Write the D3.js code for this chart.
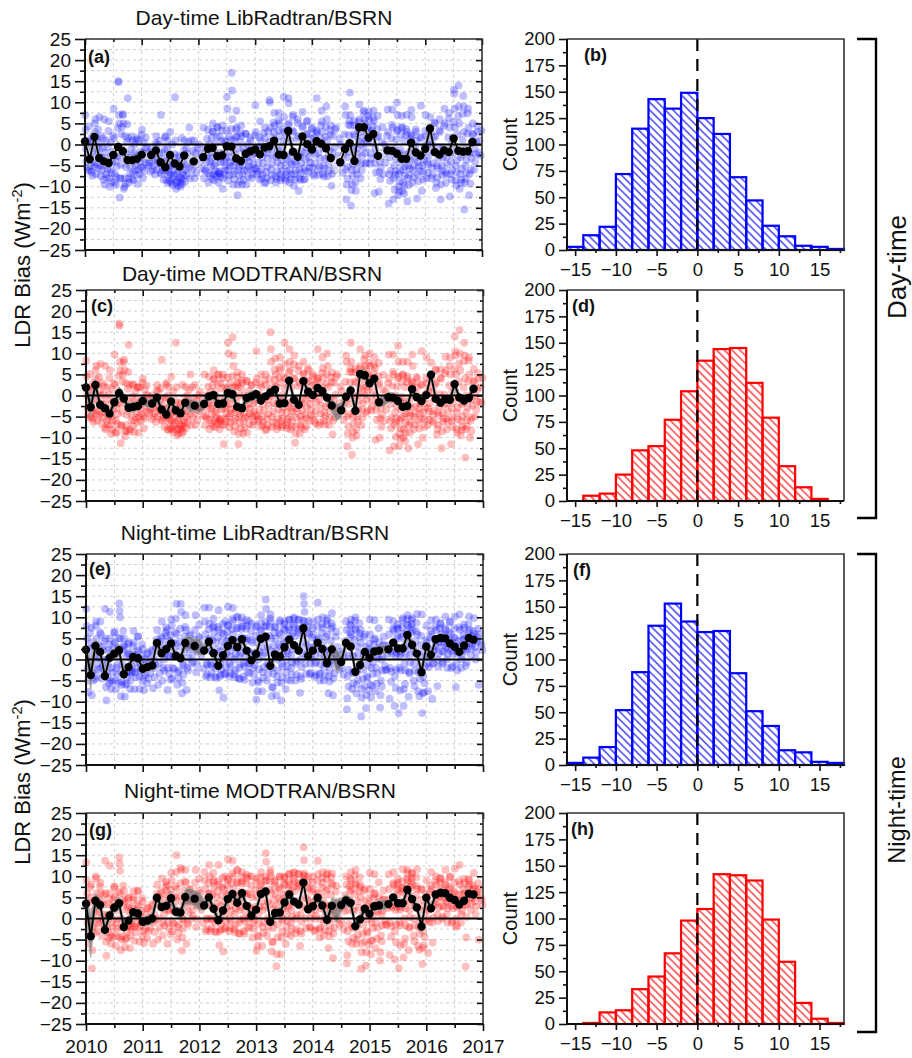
<!DOCTYPE html>
<html lang="en">

<head>
  <meta charset="UTF-8">
  <title>LDR Bias</title>
  <style>
    body { margin: 0; background: #fff; }
    svg { display: block; }
    text { font-family: "Liberation Sans", Arial, sans-serif; fill: #111; }
    .domain { display: none; }
    .tick line { stroke: #111; stroke-width: 1.6; }
    .grid line { stroke: #cfcfcf; stroke-width: 1; stroke-dasharray: 3 3; }
  </style>
</head>

<body>
  <div id="container"></div>
  <script src="https://cdn.jsdelivr.net/npm/d3@7"></script>
  <script>
    // monthly means, index 0 = Jan 2010, null = month without a mean
    const meansA = [0.7,-3.5,1.8,-3.2,-4,-4.4,-2.5,-0.6,-1.6,-3.7,-3.7,-3.4,-2.4,null,-2.5,-1.4,-4.2,-5.4,-2.5,-4.5,-5.2,-2.6,null,-4,null,-3,-1,-0.8,-2.8,-2.6,-0.4,-0.5,-3.3,-3.9,-2.2,-1.6,-1.2,-2.3,-0.7,-0.4,0.9,-2.4,-2.5,3.2,-1.7,-2.9,1.9,0.1,-1.2,0.8,0.2,-0.9,-3.2,null,-4.2,-1.1,0.3,-3.9,4.1,4.1,1.6,2.5,-2.7,null,-1.4,-1.5,-2.2,-3.4,-3.4,0.4,-1.9,-2.6,-1,3.8,-1.8,-2.4,-1.4,-1.8,1.4,-1.5,-1.7,-1.6,0.6];
    const meansC = [1.9,-2.8,2.5,-2.2,-3,-4.3,-1.6,0.6,-0.7,-2.9,-2.7,-2.5,-1.3,null,-1.9,-0.5,-3.3,-4.5,-1.4,-3.5,-4.2,-1.7,null,-2.4,null,-2,-0.2,0.1,-2,-1.9,0.6,0.3,-2.7,-3,-0.6,-0.2,0.3,-1.2,-0.2,0.7,1.4,-1.9,-1.8,3.5,-1,-2.2,3.4,0.9,0.1,1.8,1,-0.5,-2.4,null,-3.5,-0.3,1.2,-3.6,5.1,4.8,2.9,4,-1.6,null,-0.4,-0.5,-1.3,-2.7,-2.5,1.5,-0.4,-1.3,0.1,4.9,-0.8,-1.7,-0.9,-1,2.7,-0.5,-1.2,-0.6,1.6];
    const meansE = [2.3,-3.7,3.2,1.8,-3.9,0.4,1.4,2.2,-3.5,-1.8,0.6,0.3,-2.2,-1.8,-1.4,3.9,1.5,2.5,3.8,0.9,0.3,3.9,null,3.2,null,2.1,4.2,1.5,-1.5,1,3.2,4.6,2.9,4.8,2.1,-0.2,1.3,4.9,5.4,-1.5,1.2,0.7,2.9,4.7,3.4,2.1,7.4,0.8,2.1,4,2.5,-0.9,2.4,null,-0.6,3.9,3.1,-2.9,-1.3,1.8,0.4,1.9,2.1,null,2.4,4,2.6,2.6,5.8,3.5,1.4,-3,3.1,1.1,4.8,5.1,5,3.8,3,1.8,3.3,5.1,4.7];
    const meansG = [3.5,-4.2,4.2,3.2,-2.7,0.7,2.6,3.6,-2,-0.5,1.5,1.2,-0.8,-0.5,0,4.9,2.7,3,4.8,1.6,1.4,5.1,null,4.7,null,3.1,5,2.3,-0.4,1.9,4.6,5.8,3.7,6,3,0.7,2.1,5.8,6.4,-0.8,1.3,1.4,3.8,5.7,4,3.3,8.5,2.2,2.9,4.9,3.1,-0.3,3,null,3.2,4.3,3.7,-1.8,-0.2,2.3,1.1,2.9,3.1,null,3.4,5,3.6,3.6,6.8,4.6,2.6,-1.9,4.9,2.4,5.7,6.1,6,4.9,4.4,3.3,4.2,5.9,5.7];

    // half width of the grey band round each mean
    const errA = [1.5,2,1.6,1.1,1,1,1.1,1.4,1.1,1,0.9,1,0.9,0,1,1,0.9,0.9,1,1,0.9,0.9,0,1.2,0,1.2,1,1,0.9,0.9,1,1,1,0.9,0.8,0.9,1,0.9,0.9,1,1,0.9,1,1.1,1.1,0.9,1,0.9,0.9,1,1,1,1.1,0,1.6,1.2,1.2,1.2,1.1,1,1.1,1.1,1.1,0,0.9,0.9,1,1,1,1,0.9,1,1,1.1,1,1,1,1,1.2,1.1,1.1,1,1];
    const errC = [1.6,2.2,1.6,1.1,1,1,1.2,1.5,1.2,1.1,1.2,1,1,0,1.2,1.3,1,0.9,1,1,1,1,0,1.2,0,1.3,1,1.1,1,1,1.2,1.3,1,1,1.1,1.3,1.1,1,0.9,0.9,0.9,0.9,1,1.2,1,0.9,1,0.9,0.9,1,1,1.1,1.6,0,1.7,1.2,1.2,1.2,1.1,1.2,1.1,1,1.1,0,1.2,1.1,1,1,1,1,0.9,1,1,1,1,1,1,1,1.2,1.1,1,1,1];
    const errE = [2,3.4,1.7,1.4,1.2,1.1,1.1,1.4,1.2,1.1,1,0.9,1.1,1,1.2,1,0.9,0.9,1,0.9,1,1.5,0,1.6,0,1,1,1,1,0.9,1,1,0.9,0.9,0.9,1,1.1,1,1,1,1,0.8,0.9,1.1,1,1,1,1.1,0.9,1,1,1.2,1.6,0,1.5,1.2,1.2,1.2,1.1,1,1,0.9,1,0,0.9,0.8,0.9,0.9,1,1,1,1.6,1,1,0.8,0.7,0.7,0.8,0.8,0.8,0.8,0.8,0.8];
    const errG = [2.4,5,1.8,1.4,1.3,1.2,1.2,1.5,1.3,1.1,1,1,1.2,1.1,1.3,1.2,1,1,1.8,1.1,1.2,1.8,0,1.8,0,1.2,1.1,1.1,1,1,1.2,1.1,1,1,0.9,1,1.1,1,1,1,1,0.8,1,1.1,1,1,1.1,1.1,1,1.1,1.1,1.3,1.8,0,1.6,1.4,1.3,1.4,1.2,1,1,1,1.1,0,0.9,0.8,0.9,0.9,1,1,1,1.7,1,1.1,0.8,0.7,0.7,0.9,0.9,0.8,0.8,0.8,0.8];

    // [month, low, high] of the band in months that have no mean
    const gapBandA = [[13,-3.6,-1.8],[22,-4.5,-2],[24,-5.5,-3],[53,-7,-3],[63,-3.5,-1]];
    const gapBandC = [[13,-2.8,-1],[22,-4,-0.8],[24,-4,-1.5],[53,-6,-2],[63,-2.5,0]];
    const gapBandE = [[22,2.5,5.6],[24,1,5],[53,-3,2.5],[63,1.5,3.5]];
    const gapBandG = [[22,3.5,7.2],[24,2,6.2],[53,-1,4.5],[63,2,4.5]];

    // daily points by month, Jan 2010 first: the far ones, then the thick of each cloud
    const scatterA = [
      [7,3.5,-1,-4,-5.5,1],[-6,-3,0,-5,-6.5,2],[5,3,6,-7,-1,1.5],[6.5,-1,-5,-7.5,2,-3],[6,-9.5,-5,-2,-7,1],[5.5,-8,-10,-3,-6,0.5],[8.5,1.5,-9,-7,-4],
      [15,14.8,7,5,-12.6,-8,-3],[7,5,-10.5,-10,-8,2],[11,1.5,-8,-9,-5,-3],[1,-6.5,-8.5,-4,-2,0],[1.5,-9.3,-6,-3,1],[3.5,-5.5,-8,-2,0.5],[-1,-3,-5],
      [-1,-4,-6,-2],[2,-6,0,-3.5],[7,-7,-5,-2],[2,-6,-8.5,-4,-1,1],[3,-7,-9,-3,-5,0],[11.2,1,-9,-10.5,-7,-4],[-3,-9,-10,-8,-5,1.5],[1,-8.8,-6,-3,-1],
      [4,-8,-3,1],[1,-8,-5,-2],[0,-4],[4,-8,-6,-1],[3.5,-9,-6.8,-2,0,-4],[5,3,-7,-5,-8.5,0],[4,-7,-6.5,-9,-2,2],[4.5,-10.5,-8,-4,-2,1],
      [11.3,8.5,-6,-8.5,-3,2],[17,12.8,6,-7,-9.5,-5,1],[8,4,2,-12,-9.5,-6,-1],[4.5,2,-9.5,-7,-5,-1],[2.5,-9.5,-6,-3,0],[1,-6,-8,-3],[9.3,3,-5.8,-7,-2,-1],
      [5.5,1,-6,-8,-3],[4,1.5,-9,-6.5,-2],[10.5,10,4,-8.5,-6,-1],[7.5,4.5,1,-7.5,-9,-3],[7.5,5,2,-7,-8.5,-5,-1],[11.3,6.5,3,-8,-5,-2.5],[11,9.8,5,-9,-6,-4,1],
      [7,3,-9.8,-7,-4],[6,2,-11,-8,-6,-3],[7.7,4,1,-8.3,-5.5,-2],[5.5,2.5,-6.5,-3,0],[4,-5.5,-7,-1,1.5],[11,3,-6,-2,0],[8,5.5,3,-7,-5,-1],[9,6,1,-7.5,-3],
      [4.5,-9.8,-7,-2,2],[4,-5],[0,-4.5],[9,7,-6,-13,-9.5,-3],[12.3,7,4.5,-14.5,-10.8,-6],[4.5,2,-9,-11,-6,-1],[9.5,6,3,-8,-4.5,0],[8,6,5,-4.5,-2,1],
      [7.8,6,2,-4.5,-2],[8,5.5,-11.5,-4.5,-1],[2,-11.2,-6.5,-4],[-7,-2,0],[8.3,3,-14,-7,-3],[8.3,4,-13,-8,-5,-1],[10,7,3.5,-12,-10,-7,-2],[6.8,4,-11,-9,-6,-3,1],
      [7,3,-13.5,-8,-5,-2],[8.2,6.5,2,-9,-6,-1],[3,1,-12.8,-7,-4],[9.2,1.5,-11,-5,-2],[7,2,-8,-4,0],[6.5,3,-8,-5.5,0],[5,2,-10.3,-9,-5],[6,3,-13,-9.5,-5],
      [8.5,5,-6.5,-9,-3],[7.5,4,-12.3,-7,-4,0],[13,12,8.5,4,-8.5,-5],[14,9,5,-10.5,-7,-3],[11.5,9,3,-15.4,-9,-5,-1],[8.5,4,-12,-7,-2],[5,2.5,-6,-1],[3,-2,1]
    ];
    const denseA = [
      [-2.4,-6.2,4.3,-3.1,0.6],[-7.4,-1.6,-4.2,1.2,-5.3],[-4.6,-2.3,3.6,-5.7,0.4],[-6.1,-3.8,-0.7,1.4,-8.4],[-7.8,-4.4,-5.9,-0.6,3.2],[-8.9,-6.7,-4.1,-1.8,2.1],[-9.6,-7.7,-5.2,-2.7,3.9],
      [-8.1,-4.8,2.4,4.1,-1.3,7.2],[-9.3,-5.4,-2.2,0.7,4.8],[-6.8,-3.6,-1.1,1.9,-8.2],[-6,-4.9,-2.7,1.1,-7.3],[-7,-4.1,-1.7,-5.2,2.3],[-6.3,-3.4,-0.8,1.6,-4.7],[-4.3,-1.9,-6.4],
      [-5.1,-3.2,-7.1,0.4],[-4.4,-2.2,0.9,-6.6],[-6.1,-8.3,-3.7,-1.2,1.7],[-9.1,-7.2,-5.3,-6.6,-3.1,-8.6],[-9.6,-8.1,-6.2,-4.6,-7.4,-2.2],[-8.7,-9.8,-6.3,-5.1,-2.6,-7.9],[-9.4,-8.3,-6.6,-4.1,-7.2,-1.3],[-7.3,-4.6,-2.1,0.6,-5.5],
      [-6.1,-4.3,-1.4],[-6.7,-3.6,-0.8,-4.4],[-2.1,-5.7],[-6.3,-4.1,1.3,-2.6],[-7.4,-5.2,-3.3,1.6,-8.2,3.1],[-6.2,-4.4,-2.3,-7.6,1.7,4.2],[-6.9,-6.3,-7.7,-4.2,-3.1,0.8,3.3],[-7.1,-6.2,-5.1,-3.3,0.7,3.4],
      [-7.3,-5.1,-4.2,-1.6,1.1,3.7],[-8.2,-6.3,-4.1,-2.2,1.7,3.6],[-7.3,-5.3,-4.2,-8.7,0.8,2.7],[-8.4,-6.2,-3.6,-1.9,2.6],[-7.7,-5.2,-4.1,-1.2,1.6],[-7.1,-4.7,-2.2,-5.6,2.2],[-6.4,-4.3,-0.6,1.7,-8.3],
      [-7.2,-4.4,-1.6,2.7,-9.1],[-7.9,-5.3,-3.3,3.1,-1.1,0.6],[-7.2,-4.6,-2.7,1.6,5.2,2.9],[-8.1,-6.3,-4.2,-1.4,3.3,5.7],[-7.9,-6.3,-3.7,-2.1,3.6,0.8],[-8.6,-7.2,-6.4,-3.4,1.6,4.7],[-8.2,-7.1,-4.7,-2.2,3.2,6.6],
      [-8.3,-6.2,-4.7,-1.8,1.4,5.1],[-8.4,-6.8,-4.4,-1.7,4.4],[-8.2,-6.3,-3.6,-0.6,2.4,5.6],[-5.4,-4.3,-1.6,1.4,3.7],[-7.4,-4.4,-2.4,2.6,3.3],[-7.2,-5.2,-3.3,1.4,4.6],[-7.6,-5.8,-3.4,1.8,4.2],[-6.2,-4.6,-1.4,3.4,2.4],
      [-6.1,-3.7,-0.7,3.6],[-2.6,1.3],[-6.7,-2.4,2.4],[-8.1,-5.3,-1.6,4.7,2.2,5.6],[-9.4,-7.4,-4.7,-1.3,2.4,5.6],[-7.1,-4.1,-2.2,3.6,5.4,0.8],[-6.1,-2.7,1.6,4.6,7.7,-0.8],[-4.4,0.4,2.8,4.1,6.8,3.3],
      [-3.4,0.3,3.3,4.4,6.3],[-6.6,-2.6,1.7,3.7,6.8],[-8.2,-5.4,-2.8,0.6,4.1],[-4.3,-1.1,2.1],[-8.6,-6.2,-1.6,1.4,4.7],[-10.7,-7.2,-6.3,-3.4,1.2,3.2],[-11.1,-8.7,-6.2,-4.3,-1.3,2.4,4.1],[-11.6,-9.7,-7.3,-5.2,-2.4,2.3,3.7],
      [-9.6,-7.2,-5.7,-3.6,1.4,2.3],[-7.8,-5.1,-3.4,-0.4,3.6],[-8.7,-5.2,-2.6,1.7,-6.4],[-8.3,-6.4,-3.7,-0.4,3.2],[-6.7,-4.7,-2.6,1.2,3.7],[-7.2,-4.4,-1.6,1.7,5.2],[-7.8,-5.7,-3.2,-0.6,3.4],[-7.2,-6.2,-3.1,-0.7,4.4],
      [-7.1,-4.7,-1.6,1.6,6.2],[-8.3,-6.1,-2.3,1.7,5.3],[-9.7,-6.6,-3.8,-1.2,2.4,6.7],[-9.1,-8.3,-5.8,-2.4,1.1,7.3],[-8.2,-6.7,-3.7,-1.7,2.6,7.4],[-9.3,-6.1,-3.2,0.6,2.4],[-4.2,-2.3,0.7,4.4],[-2.6,3.3]
    ];
    const scatterC = [
      [8.3,4.5,0,-3,-4.5,2],[-5,-2,1,-4,-5.5,3],[6,4,7,-6,0,2.5],[7.5,0,-4,-6.5,3,-2],[7,-8,-4,-1,-6,2],[6,-7,-9,-2,-5,1.5],[9.7,2.5,-8.8,-6,-3],
      [17,16.5,8,6,-11.3,-7,-2],[8.5,6,-9.7,-8.5,-7,3],[12,2.5,-8.5,-8,-4,-2],[2.5,-5.8,-8.7,-3,-1,1],[2,-8.8,-5,-2,2],[4,-5,-7.8,-1,1.5],[0,-2,-4],
      [0,-3,-5,-1],[2.5,-5,1,-2.5],[8.5,-6,-4,-1],[3,-5,-8,-3,0,2],[4.5,-6,-8,-2,-4,1],[12.5,2,-8,-9.5,-6,-3],[-2,-8,-9,-7,-4,2.5],[2,-7.8,-5,-2,0],
      [5,-7,-2,2],[2.5,-7,-4,-1],[1,-3],[5,-7,-5,0],[4.5,-8,-5.8,-1,1,-3],[6,4,-6,-4,-7.5,1],[5,-6,-5.5,-8,-1,3],[5,-11.5,-7,-3,-1,2],
      [12.5,10,-5,-7.5,-2,3],[13.8,9.5,7,-6,-8.5,-4,2],[5.5,3,2,-11.5,-9,-5,0],[5,3,-9,-6,-4,0],[3.5,-8.8,-5,-2,1],[2.5,-5,-7,-2],[10.5,4,-4.8,-6,-1,0],
      [5,2,-5,-7,-2],[5,2.5,-8,-5.5,-1],[15,11,8,-7.5,-5,0],[8.8,5,2,-6.5,-8,-2],[9,6,3,-6,-7.5,-4,0],[12.5,7.5,4,-7,-4,-1.5],[11,8,6,-8,-5,-3,2],
      [9.5,4,-11.2,-9,-3],[7,3,-9,-7,-5,-2],[8,5,2,-8,-4.5,-1],[6,3.5,-6,-2,1],[5,-5,-6,0,2.5],[11,4,-7,-1,1],[9,6.5,4,-6,-4,0],[10,7,2,-7,-2],
      [5.5,-9.2,-6,-1,3],[5,-4],[1,-3.5],[9.5,8,-5,-12,-9,-2],[12.5,8,5.5,-14,-10,-5],[5.5,3,-8,-9.5,-5,0],[11,7,4,-7,-3.5,1],[9.5,7,6,-4,-1,2],
      [10,7,3,-3.5,-1],[9,6.5,-10.5,-3.5,0],[3,-10,-5.5,-3],[-6,-1,1],[9.7,4,-13,-6,-2],[9.7,5,-12,-7,-4,0],[11.8,8,4.5,-12,-9,-6,-1],[8,5,-10,-8,-5,-2,2],
      [8,4,-12.5,-7,-4,-1],[9.7,7,3,-8,-5,0],[4,2,-11.5,-6,-3],[10.5,2.5,-10,-4,-1],[9,3,-7,-3,1],[7.8,4,-6,-4.5,1],[6,3,-9.3,-8,-4],[6.2,4,-12.5,-8.5,-4],
      [9.2,6,-5.5,-8,-2],[9,5,-11.5,-6,-3,1],[14,10.5,9.5,5,-8,-4],[15.5,10,6,-9.5,-6,-2],[12.5,9.5,4,-14.7,-8,-4,0],[9,5,-10,-6,-1],[6.3,3.5,-5,0],[4,-1.5,2]
    ];
    const denseC = [
      [-1.6,-5.3,5.1,-2.2,1.4],[-6.3,-0.8,-3.4,2.2,-4.4],[-3.7,-1.6,4.4,-4.8,1.3],[-5.2,-2.9,0.4,2.3,-7.6],[-6.9,-3.6,-5.1,0.2,4.1],[-8.1,-5.8,-3.3,-0.9,2.9],[-8.7,-6.8,-4.4,-1.8,4.7],
      [-7.2,-3.9,3.3,4.9,-0.4,7.9],[-8.4,-4.6,-1.4,1.6,5.6],[-5.9,-2.7,-0.3,2.7,-7.3],[-5.2,-4.1,-1.8,1.9,-6.4],[-6.1,-3.2,-0.9,-4.3,3.1],[-5.4,-2.6,0.1,2.4,-3.8],[-3.4,-1.1,-5.6],
      [-4.2,-2.4,-6.3,1.2],[-3.6,-1.3,1.7,-5.7],[-5.2,-7.4,-2.8,-0.4,2.6],[-8.2,-6.3,-4.4,-5.7,-2.3,-7.8],[-8.7,-7.2,-5.3,-3.8,-6.6,-1.3],[-7.9,-8.9,-5.4,-4.3,-1.7,-7.1],[-8.6,-7.4,-5.8,-3.2,-6.4,-0.4],[-6.4,-3.7,-1.2,1.4,-4.6],
      [-5.3,-3.4,-0.6],[-5.8,-2.8,0.1,-3.6],[-1.2,-4.8],[-5.4,-3.2,2.1,-1.7],[-6.6,-4.4,-2.4,2.4,-7.3,3.9],[-5.3,-3.6,-1.4,-6.7,2.6,4.9],[-6.1,-5.4,-6.9,-3.3,-2.2,1.7,4.1],[-6.2,-5.4,-4.2,-2.4,1.6,4.3],
      [-6.4,-4.2,-3.4,-0.7,1.9,4.6],[-7.3,-5.4,-3.2,-1.3,2.6,4.4],[-6.4,-4.4,-3.4,-7.8,1.7,3.6],[-7.6,-5.3,-2.7,-1.1,3.4],[-6.8,-4.3,-3.2,-0.4,2.4],[-6.2,-3.8,-1.3,-4.7,3.1],[-5.6,-3.4,0.2,2.6,-7.4],
      [-6.3,-3.6,-0.7,3.6,-8.2],[-7.1,-4.4,-2.4,3.9,-0.2,1.4],[-6.3,-3.8,-1.8,2.4,6.1,3.7],[-7.2,-5.4,-3.3,-0.6,4.2,6.6],[-7.1,-5.4,-2.8,-1.2,4.4,1.7],[-7.8,-6.3,-5.6,-2.6,2.4,5.6],[-7.4,-6.2,-3.8,-1.4,4.1,7.4],
      [-7.4,-5.3,-3.8,-0.9,2.3,5.9],[-7.6,-5.9,-3.6,-0.8,5.2],[-7.3,-5.4,-2.7,0.3,3.3,6.4],[-4.6,-3.4,-0.7,2.3,4.6],[-6.6,-3.6,-1.6,3.4,4.1],[-6.4,-4.3,-2.4,2.2,5.4],[-6.8,-4.9,-2.6,2.7,5.1],[-5.3,-3.7,-0.6,4.3,3.2],
      [-5.2,-2.8,0.2,4.4],[-1.8,2.1],[-5.8,-1.6,3.3],[-7.3,-4.4,-0.7,5.6,3.1,6.4],[-8.6,-6.6,-3.8,-0.4,3.3,6.4],[-6.2,-3.3,-1.3,4.4,6.3,1.7],[-5.2,-1.8,2.4,5.4,8.6,0.1],[-3.6,1.3,3.6,4.9,7.7,4.2],
      [-2.6,1.2,4.1,5.3,7.2],[-5.8,-1.7,2.6,4.6,7.7],[-7.4,-4.6,-1.9,1.4,4.9],[-3.4,-0.2,2.9],[-7.8,-5.3,-0.8,2.3,5.6],[-9.8,-6.3,-5.4,-2.6,2.1,4.1],[-10.2,-7.8,-5.3,-3.4,-0.4,3.3,4.9],[-10.8,-8.8,-6.4,-4.3,-1.6,3.2,4.6],
      [-8.8,-6.3,-4.8,-2.7,2.3,3.2],[-6.9,-4.2,-2.6,0.4,4.4],[-7.8,-4.3,-1.8,2.6,-5.6],[-7.4,-5.6,-2.8,0.4,4.1],[-5.8,-3.8,-1.8,2.1,4.6],[-6.4,-3.6,-0.7,2.6,6.1],[-6.9,-4.8,-2.4,0.3,4.2],[-6.3,-5.4,-2.2,0.2,5.3],
      [-6.2,-3.8,-0.8,2.4,7.1],[-7.4,-5.2,-1.4,2.6,6.2],[-8.8,-5.7,-2.9,-0.4,3.3,7.6],[-8.2,-7.4,-4.9,-1.6,1.9,8.2],[-7.3,-5.8,-2.8,-0.8,3.4,8.3],[-8.4,-5.2,-2.4,1.4,3.3],[-3.3,-1.4,1.6,5.3],[-1.7,4.2]
    ];
    const scatterE = [
      [12,8,5,-2,-5,-7.7],[4,7.5,-8.5,-3,1,-5],[8,9,5,-4,-1,2],[9,6,-2,-4.5,3,0],[12,5,-6.5,-9.7,-3,0],[11.3,5,-5,-7,-2,2],[6.5,4,-5,-7,-2,1],
      [13.3,11.5,10,5,-8.7,-3,-6],[5,3,-8.8,-6,-3,1],[4,1.5,-3,-7,-5,0],[6.8,4,-7,-3,1],[5.5,2,-4,-7,-1],[2.5,-4,-7.2,-2,0],[1.5,-4.5,-1],
      [2,-6.8,-2,0],[7,3,-6,-1,4],[9,5,-5,-2,2,0],[5.5,7,-7.2,-2,1,3],[9.5,8,-4.5,-2,4,1],[9.7,13.2,6,-6,-3,1],[13.2,11.3,3,-8,-5.5,-1],[10.5,7,-7.2,-2,3],
      [6,3,-1,1],[7,10.5,-3,2],[5,1],[12.3,9,6,-4,-1,3],[12.3,8.5,5,-4.2,-1,2],[8,6.5,1,-4,-2,4],[11.7,7,-7.3,-4,-1,2],[-9,6,3,-3.5,0,9],
      [12.5,8,5,-4,-1,2],[12.2,9,6,-3.5,0,3],[10,7.5,4,-4.5,-2,1],[10,7.8,3,-4,-1,5],[8,5,-3,-1,2,9],[8.5,4,-5.5,-2,1],[-9.5,8,4,-7.5,-5,0],
      [10.5,7,3,-7.5,-3,1],[14.2,12,8,-5,-1,3],[10.7,9,5,-8.7,-6.5,-2],[7.8,5,2,-8.5,-4,0],[9.3,6,3,-9.7,-5.5,-1],[9,7,4,-7,-3,0,2],[9.5,7,5,-5,-2,1],
      [10,8,5.5,-5,-1,3],[9.5,7,3,-7.9,-4,0],[15,13.2,11.3,9,-1,4],[9,6,2,-3.5,-1],[9,6,3,-4,-1,1],[13.5,9.5,5,-3.5,-5],[10,7.5,4,-5,-2,1],[9.8,6,2,-8,-4,-1],
      [11,7.8,-8.5,-4.5,0],[3,-1],[-2,2],[9,7,-11.8,-9.2,-4,1],[9.5,8,6,-7,-3,1],[10,7,-8,-6,-3,3],[7,4,-13.5,-9,-7,0],[6,3,-11.5,-8.5,-4,1],
      [9.5,6,-6,-9,-2,2],[9.3,5,-7.5,-2,1],[4,2,-11.4,-8.5,-5,0],[3.5,-1.5,-2.5],[9.5,6,-9.3,-2,2],[9,7,4,-11,-4,1],[7.3,5,-12.7,-2,2,1],[9.8,6,-11,-7,-1,3],
      [10.5,8,5,-8.8,-3,1],[9.8,7,3,-5,-1],[10.8,6,-7.5,-3,1],[10.7,-12.7,-8,-4,2],[8,4,-1,-7.5,1],[9.3,6,-9.3,-1,2],[9.5,7,3,-6.3,0],[8.5,6,2,-1,4],
      [10.2,7,3,0,-2],[9,6,2,-2,4],[10.2,5,-6.5,-1,2],[10.7,7,3,-2,0],[7.5,5,2,-1.5,3],[10.2,7,4,1],[9.8,6,3,0],[-6,6,4]
    ];
    const denseE = [
      [2.6,-1.7,6.3,-3.6],[3.1,-2.4,-4.6,0.6],[3.4,-2.3,0.4,6.4],[-1.6,2.2,4.4,-3.2],[-4.3,-1.4,2.3,-5.7,3.6],[-5.3,-3.1,1.2,3.6,6.4],[-3.6,-1.3,2.7,5.1,-5.4],
      [-5.3,-1.2,2.4,6.8,3.4],[-5.8,-4.2,-2.6,1.4,3.7],[-3.3,-1.6,-2.9,1.2,3.2],[-4.2,-2.2,-0.6,2.2,5.4],[-2.6,-0.7,0.8,3.6,-5.2],[-3.7,-1.2,1.3,-5.6],[-3.2,0.4,2.3],
      [-4.2,-1.4,3.1,4.7],[-3.3,1.4,5.4,2.2],[-2.6,1.2,3.4,6.4,7.6],[-3.4,0.8,4.4,5.8,-4.8],[-2.2,0.6,2.6,6.4,3.8],[-4.4,-2.6,0.7,4.2,7.3],[-3.6,-1.4,1.7,5.4,7.7],[-2.6,0.4,2.4,5.6],
      [-0.6,3.6,4.7],[-1.2,2.6,5.4,8.3],[3.3,-2.2],[-3.6,-1.3,4.6,7.2],[-3.2,-1.4,1.8,4.6,7.6,9.7],[-4.4,-1.3,2.4,5.3,7.7],[-3.6,-2.4,0.6,4.3,6.3,8.4],[-3.3,-1.8,1.4,4.4,6.6,8.2],
      [-3.3,-1.6,0.7,3.6,7.2,9.6],[-4.2,-2.6,1.3,4.3,7.4,10.2],[-4.6,-1.2,1.6,5.3,7.2,8.8],[-4.8,-1.6,0.6,4.4,7.3,9.3],[-3.2,-0.8,1.3,4.6,6.7],[-3.6,-1.3,1.6,5.6,7.7],[-5.4,-2.3,1.7,5.2,6.8,8.7],
      [-4.4,-1.8,1.6,4.7,7.8,8.9],[-3.3,-1.4,2.3,5.6,7.7,9.7],[-6.7,-3.4,1.3,3.3,6.4,7.6],[-5.4,-2.6,0.6,3.6,6.3,8.8],[-4.2,-1.6,1.3,4.4,7.3,8.4],[-4.8,-1.6,1.4,5.6,7.6,9.4],[-3.6,-0.6,2.4,6.3,8.3,9.6],
      [-3.6,-0.4,2.6,6.4,7.3,9.4],[-4.6,-1.8,1.6,5.7,7.8,9.2],[-3.4,1.2,3.4,6.3,7.7],[-3.2,0.4,2.8,5.2,7.4],[-3.7,-0.6,2.4,4.7,7.8],[-3.3,-1.2,1.3,6.3,8.4],[-3.8,-0.8,2.3,5.4,8.3,9.2],[-5.2,-2.6,0.6,4.4,7.3,8.6],
      [-3.3,-1.2,1.4,5.4,6.6],[-2.4,1.2],[-3.6,0.6,4.4],[-6.4,-2.4,3.3,6.4,8.3,5.3],[-5.6,-3.2,0.6,4.6,9.2,7.3],[-4.8,-1.6,1.4,5.3,8.6,6.2],[-4.6,-2.4,1.3,5.4,-6.3],[-4.4,-1.3,2.4,-7.3,3.8],
      [-6.2,-3.4,-0.6,3.6,4.7],[-5.7,-3.3,0.4,2.7,7.4],[-6.4,-2.6,0.7,3.3,5.4],[-2.4,1.3,3.3],[-5.3,-2.8,1.4,3.6,7.3],[-6.7,-2.4,1.6,5.6,7.4,8.3],[-7.3,-2.6,1.4,2.8,5.4,7.6,9.3],[-5.8,-2.6,1.3,4.2,6.4,8.3,9.6],
      [-3.3,-0.7,2.6,6.3,7.6,9.4,8.4],[-6.3,-2.6,1.6,4.4,6.6,8.7],[-8.7,-4.6,-1.4,3.4,5.6],[-7.8,-5.6,-1.6,0.6,4.6],[-1.8,2.4,5.3,6.8],[-0.8,2.2,4.7,7.7,3.4],[-1.7,1.4,4.2,7.4,8.6],[-0.6,1.8,3.6,5.7,7.4],
      [1.3,2.6,4.6,6.4,8.8],[-1.6,1.3,3.2,5.2,7.4],[-2.6,1.4,3.3,4.4,7.6],[0.8,2.3,4.7,5.8,8.3],[-0.7,2.4,4.2,6.6,8.4],[2.6,3.6,5.6,6.7],[1.7,4.4,5.3,7.3],[3.4,2.2]
    ];
    const scatterG = [
      [13.3,9,6,-1,-4,-6],[5,8,-11.8,-7.5,-2,2],[10,9.5,6,-3,0,3],[8.5,6,-1,-4,4,1],[13.7,6,-5.5,-8.8,-2,1],[12.5,6,-4,-6,-1,3],[7.5,5,-4,-6.5,-1,2],
      [14.5,13,11.3,6,-7.5,-2,-5],[6.5,4,-6.8,-5,-2,2],[5,3,-2,-7,-4,1],[6.5,5,-5.3,-2,2],[6.5,3,-2,-5.5,0],[4,-3,-5.8,-1,1],[2.5,-3,0],
      [3,-6,-1,1],[8,4,-5,0,5],[9.5,6,-4,-1,3,1],[6.5,8,-6,-1,2,4],[10.8,9,-3,-1,5,2],[11,15,7,-5,-2,2],[12,11.5,4,-7.6,-4.5,0],[11.5,8.5,-6,-1,4],
      [7,4,0,2],[8.5,11.5,-2,3],[6,2],[11,9,7,-3,0,4],[12.7,10,6,-3,0,3],[9,7.5,2,-3,-1,5],[12.7,8,-6.3,-3,0,3],[-7.8,7,4,-2.5,1,10],
      [14,9,6,-3,0,3],[13.7,10,7,-2.5,1,4],[11.5,8.5,5,-3.5,-1,2],[11,8.8,4,-3,0,6],[9.5,6,-2,0,3,10],[10,5,-4.5,-1,2],[-7.7,9.5,5,-6.5,-4,1],
      [11,8,4,-6.5,-2,2],[15.5,13.5,9,-4,0,4],[11.5,10,6,-7.8,-5.5,-1],[9,6,3,-11.3,-8.5,1],[10,7,4,-8.5,-4.5,0],[10,8,5,-6,-2,1,3],[10.5,8,6,-4,-1,2],
      [11,9,6.5,-3.5,0,4],[10.5,8,4,-6.5,-3,1],[16.9,13.8,10.7,10,0,5],[10,7,3,-2,0],[10,7,4,-3,0,2],[13.7,10.5,6,-2.5,-4.5],[11,8.5,5,-4,-1,2],[10.8,7,3,-7,-3,0],
      [10.7,8,-9.4,-3.5,1],[4,0],[-1,3],[10,8,-10.6,-8.7,-3,2],[11,9,7,-6,-2,2],[11.5,8,-6,-5,-2,4],[8,5,-11.9,-8,-6,1],[7,4,-11.2,-8,-3,2],
      [10.8,7,-5.3,-8.5,-1,3],[10.5,6,-7,-1,2],[5,3,-10,-8,-4,1],[4.5,-0.5,-1.5],[10.5,7,-8.6,-1,3],[11,8,5,-9.7,-3,2],[8.5,6,-11.8,-1,3,2],[11.7,7,-9.2,-6,0,4],
      [11.5,9,6,-7.5,-2,2],[10.8,8,4,-4,0],[11.7,7,-6.5,-2,2],[7,-10.8,-7,-3,3],[9,5,0,-8.2,2],[11,7,-1,-5.7,3],[10,8,4,1,6],[9.5,7,3,0,5],
      [11.5,8,4,1,-1],[10,7,3,-1,5],[11.8,6,-2,0,3],[12.7,8,4,-1,1],[8.5,6,3,-11.4,-4.5],[9,8,5,2],[10.8,7,4,1],[-5,7,5]
    ];
    const denseG = [
      [3.8,-0.6,7.4,-2.7],[4.2,-1.3,-3.4,1.7],[4.6,-1.2,1.6,7.6],[-0.4,3.3,5.7,-2.2],[-3.2,-0.3,3.4,-4.6,4.7],[-4.4,-2.2,2.3,4.6,7.6],[-2.4,-0.2,3.8,6.3,-4.4],
      [-4.2,-0.1,3.6,7.8,4.6],[-4.7,-3.3,-1.6,2.6,4.8],[-2.3,-0.6,-1.8,2.4,4.4],[-3.3,-1.2,0.6,3.4,6.6],[-1.6,0.4,1.8,4.8,-4.2],[-2.6,-0.2,2.4,-4.7],[-2.2,1.6,3.4],
      [-3.2,-0.4,4.3,5.8],[-2.2,2.6,6.4,3.3],[-1.6,2.3,4.6,7.6,8.7],[-2.4,1.9,5.6,6.8,-3.8],[-1.2,1.6,3.8,7.6,5.1],[-3.4,-1.4,1.8,5.3,8.4],[-2.4,-0.3,2.8,6.6,8.8],[-1.4,1.6,3.6,6.8],
      [0.6,4.8,5.8],[-0.2,3.8,6.6,9.4],[4.4,-1.2],[-2.6,-0.2,5.8,8.4],[-2.2,-0.3,2.8,5.8,8.7,10.8],[-3.3,-0.2,3.6,6.4,8.8],[-2.6,-1.2,1.7,5.4,7.4,9.6],[-2.2,-0.7,2.6,5.6,7.8,9.4],
      [-2.3,-0.6,1.8,4.8,8.4,10.7],[-3.2,-1.4,2.4,5.4,8.6,11.4],[-3.6,-0.2,2.8,6.4,8.4,9.9],[-3.6,-0.6,1.6,5.6,8.4,10.4],[-2.2,0.4,2.4,5.8,7.8],[-2.4,-0.3,2.8,6.8,8.8],[-4.3,-1.2,2.8,6.4,7.9,9.8],
      [-3.4,-0.8,2.8,5.8,8.9,9.9],[-2.2,-0.4,3.4,6.8,8.8,10.8],[-5.6,-2.3,2.4,4.4,7.6,8.7],[-4.4,-1.4,1.7,4.8,7.4,9.9],[-3.1,-0.4,2.4,5.6,8.4,9.6],[-3.7,-0.6,2.6,6.8,8.7,10.6],[-2.4,0.4,3.6,7.4,9.4,10.8],
      [-2.6,0.8,3.8,7.6,8.4,10.6],[-3.6,-0.8,2.8,6.8,8.9,10.3],[-2.3,2.4,4.6,7.4,8.8],[-2.2,1.6,3.9,6.4,8.6],[-2.7,0.6,3.6,5.8,8.9],[-2.2,-0.2,2.4,7.4,9.6],[-2.8,0.3,3.4,6.6,9.4,10.4],[-4.2,-1.6,1.8,5.6,8.4,9.8],
      [-2.2,-0.2,2.6,6.4,7.8],[-1.4,2.4],[-2.6,1.7,5.6],[-5.4,-1.3,4.4,7.6,9.4,6.4],[-4.6,-2.2,1.8,5.8,10.3,8.4],[-3.8,-0.6,2.6,6.4,9.8,7.4],[-3.6,-1.4,2.4,6.6,-5.4],[-3.4,-0.2,3.4,-6.2,4.9],
      [-5.2,-2.3,0.6,4.8,5.8],[-4.8,-2.2,1.6,3.8,8.6],[-5.4,-1.6,1.8,4.4,6.6],[-1.4,2.4,4.4],[-4.3,-1.8,2.6,4.8,8.4],[-5.6,-1.4,2.8,6.8,7.8,9.4],[-6.4,-1.6,2.6,4,6.4,8.8,7.2],[-4.8,-1.6,2.4,5.4,7.6,9.4,10.8],
      [-2.2,0.3,3.8,7.4,8.8,10.6,9.6],[-5.4,-1.6,2.8,5.6,7.7,9.8],[-7.4,-3.6,-0.3,4.4,6.8],[-6.4,-4.4,-0.6,1.8,5.8],[-0.8,3.4,6.4,7.8],[0.2,3.4,5.8,8.8,4.6],[-0.6,2.6,5.4,8.6,9.6],[0.4,2.8,4.8,6.8,8.6],
      [2.4,3.8,5.8,7.4,9.8],[-0.6,2.4,4.4,6.4,8.6],[-1.6,2.6,4.4,5.6,8.8],[1.8,3.4,5.8,6.9,9.4],[0.4,3.4,5.4,7.6,9.4],[3.6,4.8,6.8,7.8],[2.8,5.6,6.4,8.4],[4.4,3.2]
    ];

    const binStarts = [-16,-14,-12,-10,-8,-6,-4,-2,0,2,4,6,8,10,12,14,16];
    const countsB = [3,14,22,72,115,143,134,149,125,110,69,47,23,13,4,3,1];
    const countsD = [0,5,7,25,48,52,77,104,133,144,145,112,79,33,13,2,0];
    const countsF = [2,7,17,52,88,132,153,136,126,127,87,51,37,14,12,3,2];
    const countsH = [0,1,11,13,33,45,67,98,109,142,141,136,99,59,20,5,1];

    const yearTicks = [2010,2011,2012,2013,2014,2015,2016,2017];
    const biasTicks = [-25,-20,-15,-10,-5,0,5,10,15,20,25];
    const countTicks = [0,25,50,75,100,125,150,175,200];
    const histTicks = [-15,-10,-5,0,5,10,15];

    const BLUE = '#0000ff';
    const RED = '#ff0000';

    const svg = d3.select('#container').append('svg')
      .attr('width', 912)
      .attr('height', 1058);

    const defs = svg.append('defs');
    [['hatch-blue', BLUE], ['hatch-red', RED]].forEach(([id, color]) => {
      defs.append('pattern')
        .attr('id', id)
        .attr('patternUnits', 'userSpaceOnUse')
        .attr('width', 5.5)
        .attr('height', 5.5)
        .attr('patternTransform', 'rotate(45)')
        .append('line')
        .attr('x1', 0).attr('x2', 5.5)
        .attr('y1', 2.75).attr('y2', 2.75)
        .attr('stroke', color)
        .attr('stroke-width', 1.1);
    });

    function midpoints(ticks) {
      return d3.pairs(ticks).map(([a, b]) => (a + b) / 2);
    }

    function addFrame(g, width, height) {
      g.append('path')
        .attr('d', `M0,0H${width}V${height}`)
        .attr('fill', 'none')
        .attr('stroke', '#333')
        .attr('stroke-width', 1.6);
      g.append('path')
        .attr('d', `M0,0V${height}H${width}`)
        .attr('fill', 'none')
        .attr('stroke', '#111')
        .attr('stroke-width', 2);
    }

    function addAxis(g, axis, translate, fontSize, pad) {
      g.append('g')
        .attr('transform', translate || null)
        .call(axis.tickPadding(pad))
        .call(a => a.selectAll('text').style('font-size', fontSize + 'px').attr('fill', '#111'));
    }

    function drawSeries(p) {
      const width = 397, height = 211;
      const g = svg.append('g').attr('transform', `translate(${p.left},${p.top})`);
      const x = d3.scaleLinear().domain([2010, 2017]).range([0, width]);
      const y = d3.scaleLinear().domain([-25, 25]).range([height, 0]);
      const monthX = m => x(2010 + m / 12);

      // grid at every half year and every 2.5 Wm-2
      const minorY = d3.range(-25, 25.1, 2.5);
      g.append('g').attr('class', 'grid').selectAll('line').data(minorY).join('line')
        .attr('x1', 0).attr('x2', width)
        .attr('y1', d => y(d)).attr('y2', d => y(d));
      g.append('g').attr('class', 'grid').selectAll('line').data(d3.range(2010, 2017.1, 0.5)).join('line')
        .attr('y1', 0).attr('y2', height)
        .attr('x1', d => x(d)).attr('x2', d => x(d));

      const points = p.scatter.flatMap((vals, m) => {
        const all = vals.concat(p.dense[m]);
        return all.map((v, i) => ({ m: m + (i + 0.5) / all.length, v }));
      });
      g.append('g').selectAll('circle').data(points).join('circle')
        .attr('cx', d => monthX(d.m))
        .attr('cy', d => y(d.v))
        .attr('r', 3.9)
        .attr('fill', p.color)
        .attr('fill-opacity', 0.25);

      // the band runs on through months that have no mean
      const bandRows = p.means
        .map((v, m) => v === null ? null : { m, lo: v - p.err[m], hi: v + p.err[m] })
        .filter(d => d)
        .concat(p.gapBand.map(([m, lo, hi]) => ({ m, lo, hi })))
        .sort((a, b) => a.m - b.m);
      const band = d3.area().x(d => monthX(d.m)).y0(d => y(d.lo)).y1(d => y(d.hi));
      g.append('path')
        .attr('d', band(bandRows))
        .attr('fill', p.bandFill)
        .attr('stroke', '#aaa')
        .attr('stroke-width', 1);

      g.append('line')
        .attr('x1', 0).attr('x2', width)
        .attr('y1', y(0)).attr('y2', y(0))
        .attr('stroke', '#000')
        .attr('stroke-width', 2);

      const meanRows = p.means.map((v, m) => ({ m, v }));
      const line = d3.line().defined(d => d.v !== null).x(d => monthX(d.m)).y(d => y(d.v));
      g.append('path')
        .attr('d', line(meanRows))
        .attr('fill', 'none')
        .attr('stroke', '#000')
        .attr('stroke-width', 1.8);
      g.append('g').selectAll('circle').data(meanRows.filter(d => d.v !== null)).join('circle')
        .attr('cx', d => monthX(d.m))
        .attr('cy', d => y(d.v))
        .attr('r', 4.2)
        .attr('fill', '#000');

      const minorBias = midpoints(biasTicks);
      const minorYear = midpoints(yearTicks);
      addAxis(g, d3.axisLeft(y).tickValues(biasTicks).tickSize(10), null, 19, 4);
      addAxis(g, d3.axisLeft(y).tickValues(minorBias).tickSize(5).tickFormat(''), null, 19, 4);
      addAxis(g, d3.axisRight(y).tickValues(biasTicks).tickSize(-6).tickFormat(''), `translate(${width},0)`, 19, 2);
      addAxis(g, d3.axisRight(y).tickValues(minorBias).tickSize(-3).tickFormat(''), `translate(${width},0)`, 19, 2);
      addAxis(g, d3.axisTop(x).tickValues(yearTicks).tickSize(-6).tickFormat(''), null, 19, 2);
      addAxis(g, d3.axisTop(x).tickValues(minorYear).tickSize(-3).tickFormat(''), null, 19, 2);
      const yearAxis = d3.axisBottom(x).tickValues(yearTicks).tickSize(7);
      if (!p.showYears) yearAxis.tickFormat('');
      else yearAxis.tickFormat(d3.format('d'));
      addAxis(g, yearAxis, `translate(0,${height})`, 19, 9);
      addAxis(g, d3.axisBottom(x).tickValues(minorYear).tickSize(4).tickFormat(''), `translate(0,${height})`, 19, 9);
      addFrame(g, width, height);

      svg.append('text')
        .attr('x', p.titleX).attr('y', p.top - 14)
        .attr('dy', p.titleDy)
        .attr('text-anchor', 'middle')
        .style('font-size', '21px')
        .text(p.title);
      g.append('text')
        .attr('x', p.labelX).attr('y', p.labelY)
        .style('font-size', '18px')
        .style('font-weight', 'bold')
        .text(p.label);
    }

    function drawHist(p) {
      const width = 277, height = 211;
      const g = svg.append('g').attr('transform', `translate(567,${p.top})`);
      const x = d3.scaleLinear().domain([-16, 18]).range([0, width]);
      const y = d3.scaleLinear().domain([0, 200]).range([height, 0]);

      g.append('g').selectAll('rect').data(binStarts.map((b, i) => ({ b, c: p.counts[i] })).filter(d => d.c > 0)).join('rect')
        .attr('x', d => x(d.b))
        .attr('width', d => x(d.b + 2) - x(d.b))
        .attr('y', d => y(d.c))
        .attr('height', d => y(0) - y(d.c))
        .attr('fill', `url(#${p.hatch})`)
        .attr('stroke', p.color)
        .attr('stroke-width', 2.2);

      g.append('line')
        .attr('x1', x(0)).attr('x2', x(0))
        .attr('y1', 0).attr('y2', height)
        .attr('stroke', '#000')
        .attr('stroke-width', 2.2)
        .attr('stroke-dasharray', '12 8');

      addAxis(g, d3.axisLeft(y).tickValues(countTicks).tickSize(8), null, 18.5, 4);
      addAxis(g, d3.axisLeft(y).tickValues(midpoints(countTicks)).tickSize(4).tickFormat(''), null, 18.5, 4);
      addAxis(g, d3.axisBottom(x).tickValues(histTicks).tickSize(6), `translate(0,${height})`, 18.5, 7);
      addAxis(g, d3.axisBottom(x).tickValues(d3.range(-12.5, 18, 5)).tickSize(3).tickFormat(''), `translate(0,${height})`, 18.5, 7);
      addFrame(g, width, height);

      g.append('text')
        .attr('transform', `translate(-50,${height / 2}) rotate(-90)`)
        .attr('text-anchor', 'middle')
        .style('font-size', '20px')
        .text('Count');
      g.append('text')
        .attr('x', p.labelX).attr('y', 22)
        .style('font-size', '18px')
        .style('font-weight', 'bold')
        .text(p.label);
    }

    function drawBiasLabel(cy) {
      const t = svg.append('text')
        .attr('transform', `translate(30,${cy}) rotate(-90)`)
        .attr('text-anchor', 'middle')
        .style('font-size', '22px');
      t.append('tspan').text('LDR Bias (Wm');
      t.append('tspan').attr('dy', -8).style('font-size', '14.5px').text('-2');
      t.append('tspan').attr('dy', 8).text(')');
    }

    function drawBracket(top, bottom, cy, baseX, size, text) {
      svg.append('path')
        .attr('d', `M857,${top}H876V${bottom}H857`)
        .attr('fill', 'none')
        .attr('stroke', '#000')
        .attr('stroke-width', 2.4);
      svg.append('text')
        .attr('transform', `translate(${baseX},${cy}) rotate(-90)`)
        .attr('text-anchor', 'middle')
        .style('font-size', size + 'px')
        .text(text);
    }

    drawSeries({ left: 85, top: 39, title: 'Day-time LibRadtran/BSRN', titleX: 264, titleDy: 0, label: '(a)', labelX: 3, labelY: 24, color: BLUE, means: meansA, err: errA, gapBand: gapBandA, scatter: scatterA, dense: denseA, bandFill: 'rgba(255,255,255,0.55)' });
    drawSeries({ left: 86, top: 290, title: 'Day-time MODTRAN/BSRN', titleX: 252, titleDy: 5, label: '(c)', labelX: 5, labelY: 22, color: RED, means: meansC, err: errC, gapBand: gapBandC, scatter: scatterC, dense: denseC, bandFill: 'rgba(110,110,110,0.7)' });
    drawSeries({ left: 86, top: 554, title: 'Night-time LibRadtran/BSRN', titleX: 255, titleDy: 0, label: '(e)', labelX: 3, labelY: 21, color: BLUE, means: meansE, err: errE, gapBand: gapBandE, scatter: scatterE, dense: denseE, bandFill: 'rgba(110,110,110,0.7)' });
    drawSeries({ left: 86, top: 813, title: 'Night-time MODTRAN/BSRN', titleX: 260, titleDy: -1, label: '(g)', labelX: 3, labelY: 23, color: RED, means: meansG, err: errG, gapBand: gapBandG, scatter: scatterG, dense: denseG, bandFill: 'rgba(110,110,110,0.7)', showYears: true });

    drawHist({ top: 39, counts: countsB, color: BLUE, hatch: 'hatch-blue', label: '(b)', labelX: 17 });
    drawHist({ top: 290, counts: countsD, color: RED, hatch: 'hatch-red', label: '(d)', labelX: 5 });
    drawHist({ top: 554, counts: countsF, color: BLUE, hatch: 'hatch-blue', label: '(f)', labelX: 6 });
    drawHist({ top: 813, counts: countsH, color: RED, hatch: 'hatch-red', label: '(h)', labelX: 4 });

    drawBiasLabel(265);
    drawBiasLabel(782);
    drawBracket(39, 518, 267, 906, 26, 'Day-time');
    drawBracket(554, 1032, 810, 905, 23.6, 'Night-time');
  </script>
</body>

</html>
